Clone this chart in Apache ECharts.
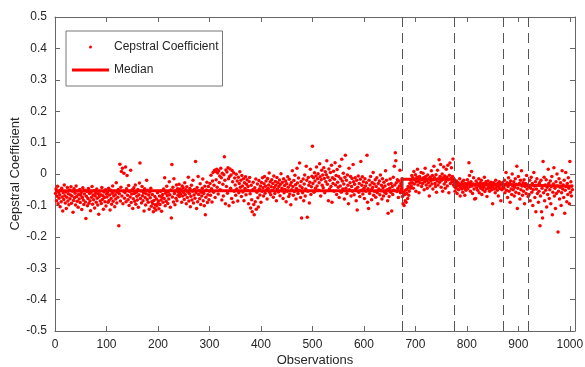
<!DOCTYPE html>
<html>
<head>
<meta charset="utf-8">
<script src="https://cdn.jsdelivr.net/npm/echarts@6/dist/echarts.min.js"></script>
<style>
html,body{margin:0;padding:0;background:#fff;}
#c{width:585px;height:367px;}
</style>
</head>
<body>
<div id="c"></div>
<script>
// Cepstral coefficient per observation (in thousandths), observation = index + 1
const coeffMilli = [
-62,-48,-85,-71,-39,-95,-58,-77,-66,-104,-52,-88,-45,-73,-118,-60,-81,-35,-69,-92,
-57,-110,-74,-43,-86,-63,-98,-51,-79,-67,-41,-93,-70,-55,-122,-84,-47,-76,-61,-99,
-38,-72,-87,-54,-106,-65,-80,-49,-91,-68,-59,-113,-75,-44,-83,-97,-64,-52,-89,-142,
-71,-56,-101,-78,-46,-93,-62,-85,-117,-58,-74,-40,-96,-67,-82,-53,-108,-70,-61,-90,
-48,-77,-99,-63,-128,-72,-55,-86,-66,-94,-43,-81,-69,-112,-57,-75,-88,-50,-102,-64,
-73,-59,-90,-45,-84,-67,-115,-52,-78,-96,-61,-38,-87,-70,-55,-104,-66,-80,-28,-92,
-58,-74,-49,-165,-63,31,-86,-42,8,-70,18,-95,-55,2,-77,-60,22,-88,-47,-5,
-68,-82,-37,-100,-56,-73,12,-91,-64,-50,-110,-79,-44,-62,-87,-35,-96,-58,-71,-83,
-49,-106,-66,-29,35,-78,-54,-92,-40,-69,-85,-60,-118,-47,-75,-99,-63,-20,-81,-52,
-90,-67,-112,-57,-76,-45,-103,-88,-65,-95,-120,-84,-108,-72,-98,-115,-80,-102,-60,-93,
-86,-111,-70,-97,-55,-83,-119,-74,-65,-90,-48,-78,-12,-101,-61,-87,-39,-69,-94,-57,
-80,-25,-66,-106,-51,-140,30,-73,-42,-89,-15,-62,-98,-54,-77,-35,-85,-47,-68,-58,
-33,-72,-48,-63,-52,-90,-38,-70,-44,-59,-81,-28,-66,-50,-95,-41,-75,-57,-10,-86,
-62,-46,-104,-71,-36,-83,-55,-20,-92,-67,-49,-77,40,-60,-110,-43,-88,-8,-65,-53,
-79,-31,-97,-58,-70,-45,-16,-85,-62,-101,-39,-130,-74,-51,-26,-91,-66,-40,-82,-55,
-30,-68,-4,-47,-89,-22,5,-58,-36,12,-75,8,-18,15,-42,3,-64,10,-27,-6,
-50,18,-12,-83,2,-33,-70,-2,55,-20,-95,13,-40,6,-61,20,-15,-101,-8,16,
-45,-3,-78,11,-25,-90,4,-55,-13,-35,-68,-1,-48,-22,-86,-10,-60,-30,7,-42,
-20,-72,-5,-38,-57,-15,-85,-28,-46,-9,-66,-33,-18,-52,-40,-95,-24,-11,-63,-108,
-36,-82,-120,-50,-26,-97,-130,-44,-88,-16,-112,-58,-32,-76,-105,-21,-48,-67,-38,-90,
-27,-55,-12,-44,-70,-31,-8,-61,-39,-22,-50,-80,-14,-46,-35,3,-58,-25,-66,-41,
-18,-52,-30,-74,-6,-43,-62,-24,-36,-85,-11,-48,-28,-57,-40,-19,-69,-33,1,-53,
-45,-26,-78,-15,-60,-37,-49,-22,-88,-31,-55,-9,-42,-72,-17,-64,-35,-98,-27,-50,
10,-40,-68,-21,-56,-4,-34,-80,-46,18,-29,-62,-13,-52,35,-38,-75,-24,-140,-44,
-60,-16,-85,-32,-3,-70,-48,25,-20,-138,-55,-11,-36,-92,-26,15,-65,-41,-7,88,
-30,-12,-58,4,-22,-45,-6,22,-38,-15,1,-52,-28,33,-9,-70,-18,12,-36,-3,
-44,20,-14,-60,7,-25,-2,42,-33,-10,-85,16,-48,-20,5,-40,28,-90,-12,-30,
9,-55,-17,36,-35,-5,-65,14,-26,-42,-8,-75,25,-38,-15,-58,47,-22,-48,2,
-32,-80,-10,60,-45,-20,-62,-3,-36,-95,18,-50,-28,-8,-70,-40,-14,-55,30,-25,
-66,-33,-12,-48,-85,-20,-115,-42,-6,-58,-30,-72,-17,40,-52,-36,-9,-64,-25,-45,
-78,-15,-38,-55,-28,60,-90,-47,-110,-20,-62,-35,-8,-50,-82,-27,-43,5,-68,-32,
-56,-18,-74,-40,-12,-60,-95,-30,-48,-22,-66,-3,-53,-36,-80,-15,-44,-70,-26,-58,
-38,10,-62,-20,-50,-85,-125,-33,-72,-45,-16,-58,-30,-118,-40,-65,-10,-52,25,-35,
68,42,-28,-56,-18,-45,-75,-22,-38,12,-60,-30,-48,-15,
-72,-95,-58,-100,-66,-85,-52,-90,-62,-48,-78,-40,-68,-55,-30,-45,
-20,-38,-5,-28,-12,-45,8,-32,-18,-2,-55,-25,-10,15,-35,-22,-60,-8,-28,-15,
5,-40,-18,-30,2,-12,-50,-25,18,-8,-35,-20,-45,-3,-28,-15,-70,-38,-10,-22,
10,-32,-5,-48,-18,25,-12,-30,-40,-2,-58,-22,12,-35,-15,45,-26,-8,30,-42,
-20,0,-55,-12,22,-32,-6,-45,-25,15,-10,-38,28,-18,-60,-4,35,-30,-14,20,
-25,-8,48,-35,-16,-40,
-55,-30,-45,-22,-62,-38,-28,-50,-35,-15,-70,-42,-32,-48,-25,-58,-38,-20,-45,-68,-30,-52,-40,-35,
-18,-47,-28,36,-5,-40,-55,-25,8,-38,-62,-32,-12,-48,-80,-36,-78,-22,-44,-30,
-52,-35,-15,-60,-40,-28,-45,-20,-65,-38,-50,-30,-42,-10,-56,-34,-25,-48,-72,-36,
-22,-45,-38,-55,-30,-42,-26,-50,-35,-95,-40,-28,-48,-33,-60,-20,-44,-37,-52,-30,
-70,-40,-25,-46,-35,-85,-32,-50,-28,-42,-38,
-45,-20,-60,-35,5,-52,-28,-75,-40,-12,-55,-30,-90,-22,-48,-65,0,-38,-50,
-25,-70,-42,-15,-58,-33,25,-110,-45,-8,-62,-30,-80,-20,-50,10,-38,-68,-28,-55,-18,-95,-40,-30,-62,-5,-48,-35,-72,
-40,-65,-20,-85,-45,-10,-58,-30,-100,-50,5,-38,-75,-25,-120,-48,-15,-62,-35,-90,-55,
-28,-165,-70,-20,-120,-45,-140,40,-60,-10,-85,-35,-52,-18,-105,-42,-65,15,-30,-78,
-50,-22,-95,-40,-8,-130,-58,-32,20,-70,-45,-110,-25,-62,0,-38,-185,-55,-15,-80,
-42,-28,-100,-60,10,-48,-35,-75,-20,-125,-52,5,-40,-88,-30,-65,-12,-45,-95,40,-58,-25,-70,-38,-50
];

// Segment boundaries (change points) and segment medians
const segmentBounds = [0, 674, 776, 871, 919, 1005];
const segmentMedians = [-0.053, -0.017, -0.033, -0.036, -0.039];
const changePoints = [674, 776, 871, 919];

const xTicks = [0, 100, 200, 300, 400, 500, 600, 700, 800, 900, 1000];
const yTicks = [-0.5, -0.4, -0.3, -0.2, -0.1, 0, 0.1, 0.2, 0.3, 0.4, 0.5];

const scatterData = coeffMilli.map((v, i) => [i + 1, v / 1000]);
const medianData = [];
segmentMedians.forEach((m, i) => {
  medianData.push([segmentBounds[i], m]);
  medianData.push([segmentBounds[i + 1], m]);
});

const FONT = 'Liberation Sans';
const AXC = '#666666';
const TXT = '#262626';

const chart = echarts.init(document.getElementById('c'), null, {renderer: 'canvas'});

const axisCommonX = {
  type: 'value', min: 0, max: 1010, interval: 100,
  axisLine: {show: true, onZero: false, lineStyle: {color: AXC, width: 1}},
  axisTick: {show: true, inside: true, length: 5, lineStyle: {color: AXC}},
  splitLine: {show: false}
};
const axisCommonY = {
  type: 'value', min: -0.5, max: 0.5, interval: 0.1,
  axisLine: {show: true, onZero: false, lineStyle: {color: AXC, width: 1}},
  axisTick: {show: true, inside: true, length: 5, lineStyle: {color: AXC}},
  splitLine: {show: false}
};

chart.setOption({
  animation: false,
  backgroundColor: '#fff',
  grid: {left: 55, right: 10, top: 17, bottom: 36, containLabel: false, outerBoundsMode: 'none'},
  legend: {
    orient: 'vertical',
    left: 66, top: 31,
    padding: [10, 4, 10, 6],
    itemGap: 11,
    itemWidth: 37, itemHeight: 3,
    backgroundColor: '#fff',
    borderColor: '#777', borderWidth: 1,
    selectedMode: false,
    textStyle: {fontFamily: FONT, fontSize: 12, color: TXT},
    data: [
      {name: 'Cepstral Coefficient', icon: 'circle'},
      {name: 'Median', icon: 'rect'}
    ]
  },
  xAxis: [
    Object.assign({}, axisCommonX, {
      position: 'bottom',
      name: 'Observations', nameLocation: 'middle', nameGap: 23,
      nameMoveOverlap: false,
      nameTextStyle: {fontFamily: FONT, fontSize: 13, color: TXT},
      axisLabel: {fontFamily: FONT, fontSize: 12, color: TXT, margin: 8,
        formatter: v => (xTicks.indexOf(v) >= 0 ? String(v) : '')}
    }),
    Object.assign({}, axisCommonX, {
      position: 'top', axisLabel: {show: false}
    })
  ],
  yAxis: [
    Object.assign({}, axisCommonY, {
      position: 'left',
      name: 'Cepstral Coefficient', nameLocation: 'middle', nameGap: 33,
      nameMoveOverlap: false,
      nameTextStyle: {fontFamily: FONT, fontSize: 13, color: TXT},
      axisLabel: {fontFamily: FONT, fontSize: 12, color: TXT, margin: 8,
        formatter: v => {
          const r = Math.round(v * 10) / 10;
          return yTicks.indexOf(r) >= 0 ? String(r) : '';
        }}
    }),
    Object.assign({}, axisCommonY, {
      position: 'right', axisLabel: {show: false}
    })
  ],
  series: [
    {
      name: 'change points', type: 'line', data: [], z: 1,
      markLine: {
        silent: true, symbol: 'none', animation: false,
        label: {show: false},
        lineStyle: {color: '#555', width: 1, type: [10, 6]},
        data: changePoints.map(x => ({xAxis: x}))
      }
    },
    {
      name: 'Cepstral Coefficient', type: 'scatter', data: scatterData,
      symbol: 'circle', symbolSize: 3.5,
      itemStyle: {color: '#ff0000', opacity: 1}, z: 2
    },
    {
      name: 'Median', type: 'line', data: medianData,
      showSymbol: false, symbol: 'none',
      lineStyle: {color: '#ff0000', width: 3},
      itemStyle: {color: '#ff0000'}, z: 3
    }
  ]
});
</script>
</body>
</html>
